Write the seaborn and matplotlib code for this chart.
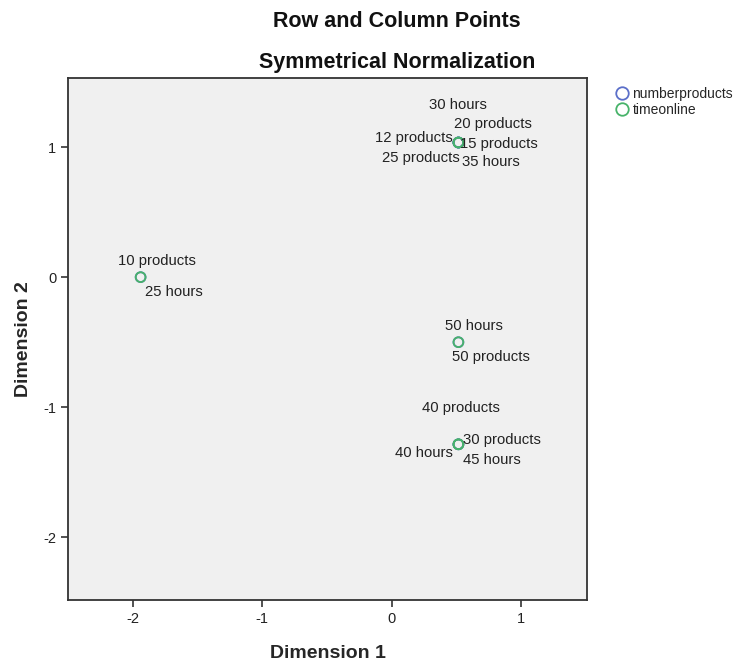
import matplotlib
matplotlib.use("Agg")
import matplotlib.pyplot as plt
from matplotlib.lines import Line2D
import seaborn as sns
import pandas as pd

# category coordinates
product_labels = ["10 products", "12 products", "15 products", "20 products",
                  "25 products", "30 products", "40 products", "50 products"]
product_dim1 = [-1.94, 0.517, 0.517, 0.517, 0.517, 0.517, 0.517, 0.517]
product_dim2 = [0.0, 1.035, 1.035, 1.035, 1.035, -1.285, -1.285, -0.50]

hour_labels = ["25 hours", "30 hours", "35 hours", "40 hours", "45 hours", "50 hours"]
hour_dim1 = [-1.94, 0.517, 0.517, 0.517, 0.517, 0.517]
hour_dim2 = [0.0, 1.035, 1.035, -1.285, -1.285, -0.50]

x_ticks = [-2, -1, 0, 1]
y_ticks = [-2, -1, 0, 1]

# label placement (pixel offset, alignment) so the overlapping labels stay readable
label_pos = {
    "10 products": (16, 16, "center"),
    "12 products": (-6, 5, "right"),
    "15 products": (2, -1, "left"),
    "20 products": (-4, 19, "left"),
    "25 products": (1, -15, "right"),
    "30 products": (5, 4, "left"),
    "40 products": (3, 36, "center"),
    "50 products": (-6, -15, "left"),
    "25 hours": (4, -15, "left"),
    "30 hours": (0, 38, "center"),
    "35 hours": (4, -19, "left"),
    "40 hours": (-6, -9, "right"),
    "45 hours": (5, -16, "left"),
    "50 hours": (16, 16, "center"),
}

products = pd.DataFrame({"label": product_labels, "dim1": product_dim1, "dim2": product_dim2})
hours = pd.DataFrame({"label": hour_labels, "dim1": hour_dim1, "dim2": hour_dim2})

sns.set_style("white")
plt.rcParams["font.family"] = ["Liberation Sans", "DejaVu Sans"]
plt.rcParams["axes.unicode_minus"] = False

blue = "#5b6fc9"
green = "#48b36a"

fig = plt.figure(figsize=(7.41, 6.62), dpi=100)
ax = fig.add_axes([0.092, 0.094, 0.700, 0.788])
ax.set_facecolor("#f0f0f0")

for df, col in [(products, blue), (hours, green)]:
    sns.scatterplot(data=df, x="dim1", y="dim2", ax=ax, s=50, marker="o",
                    linewidth=1.3, legend=False, zorder=3)
    pts = ax.collections[-1]
    pts.set_facecolor("none")
    pts.set_edgecolor(col)

for df in [products, hours]:
    for _, r in df.iterrows():
        dx, dy, ha = label_pos[r["label"]]
        ax.annotate(r["label"], (r["dim1"], r["dim2"]), xytext=(dx, dy),
                    textcoords="offset pixels", ha=ha, va="center",
                    fontsize=10.7, color="#222222")

ax.set_xlim(-2.5, 1.51)
ax.set_ylim(-2.48, 1.53)
ax.set_xticks(x_ticks)
ax.set_yticks(y_ticks)
ax.tick_params(direction="out", length=5, width=1.2, color="#333333",
               labelsize=10.5, labelcolor="#222222", bottom=True, left=True)
for sp in ax.spines.values():
    sp.set_color("#333333")
    sp.set_linewidth(1.3)

ax.set_xlabel("Dimension 1", fontsize=14, fontweight="bold", labelpad=14)
ax.set_ylabel("Dimension 2", fontsize=14, fontweight="bold", labelpad=8)

fig.text(0.536, 0.968, "Row and Column Points", ha="center", va="center",
         fontsize=15.5, fontweight="bold", color="#111111")
fig.text(0.536, 0.905, "Symmetrical Normalization", ha="center", va="center",
         fontsize=15.5, fontweight="bold", color="#111111")

handles = [Line2D([], [], marker="o", ls="none", mfc="none", mec=blue, ms=9, mew=1.3),
           Line2D([], [], marker="o", ls="none", mfc="none", mec=green, ms=9, mew=1.3)]
fig.legend(handles, ["numberproducts", "timeonline"], loc="upper left",
           bbox_to_anchor=(0.815, 0.884), frameon=False, fontsize=10,
           handletextpad=0.15, labelspacing=0.15, borderpad=0.2, handlelength=1.2)

fig.savefig("out.png", dpi=100, facecolor="white")
